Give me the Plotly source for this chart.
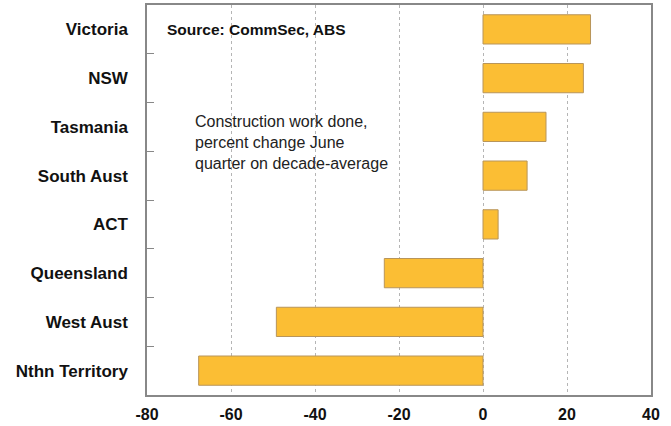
import plotly.graph_objects as go

categories = ["Victoria", "NSW", "Tasmania", "South Aust", "ACT", "Queensland", "West Aust", "Nthn Territory"]
values = [25.6, 23.9, 15.0, 10.5, 3.6, -23.5, -49.2, -67.7]
x_ticks = [-80, -60, -40, -20, 0, 20, 40]

fig = go.Figure(go.Bar(
    x=values, y=categories, orientation="h",
    marker=dict(color="#FBBE34", line=dict(color="#B8955A", width=1)),
))

fig.update_layout(
    width=671, height=426,
    margin=dict(l=147, r=20, t=5, b=31),
    paper_bgcolor="white", plot_bgcolor="white",
    bargap=0.4, showlegend=False,
    font=dict(family="Liberation Sans, Arial, sans-serif", color="#111"),
)
fig.update_xaxes(
    range=[-80, 40], tickvals=x_ticks, ticktext=[str(v) for v in x_ticks],
    showgrid=True, gridcolor="#B5B5B5", griddash="dot", gridwidth=1,
    zeroline=False, showline=True, linecolor="#888", linewidth=1.5, mirror=True,
    ticks="", tickfont=dict(size=16, family="Liberation Sans, Arial", color="#111", weight="bold"),
    ticklabelstandoff=4, automargin=False,
)
fig.update_yaxes(
    categoryorder="array", categoryarray=categories[::-1],
    showline=True, linecolor="#888", linewidth=1.5, mirror=True,
    ticks="inside", tickson="boundaries", ticklen=7, tickcolor="#888",
    tickfont=dict(size=17, family="Liberation Sans, Arial", color="#111", weight="bold"),
    ticklabelstandoff=14, showgrid=False, automargin=False,
)
fig.add_annotation(
    text="<b>Source: CommSec, ABS</b>", xref="paper", yref="paper",
    x=0.035, y=0.936, xanchor="left", yanchor="middle", showarrow=False,
    font=dict(size=15.5, color="#111"),
)
fig.add_annotation(
    text="Construction work done,<br>percent change June<br>quarter on decade-average",
    xref="paper", yref="paper", x=0.092, y=0.728, xanchor="left", yanchor="top",
    align="left", showarrow=False, font=dict(size=16, color="#222"),
)
fig.write_html("out.html")
